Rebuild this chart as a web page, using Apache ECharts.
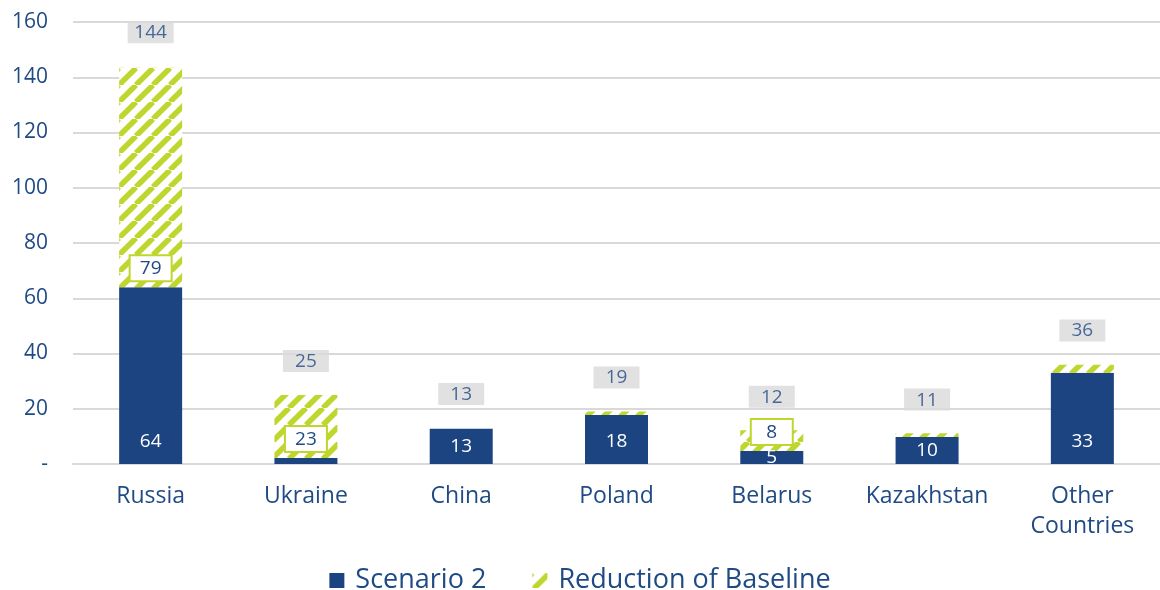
<!DOCTYPE html>
<html>
<head>
<meta charset="utf-8">
<script src="https://cdn.jsdelivr.net/npm/echarts@6/dist/echarts.min.js"></script>
<style>
html,body{margin:0;padding:0;background:#fff;}
#chart{width:1160px;height:590px;}
</style>
</head>
<body>
<div id="chart"></div>
<script>
const categories = ['Russia', 'Ukraine', 'China', 'Poland', 'Belarus', 'Kazakhstan', 'Other\nCountries'];
const scenario2 = [64, 2.2, 12.8, 17.7, 4.7, 9.8, 33];
const reduction = [79.4, 22.8, 0, 1.3, 7.5, 1.3, 2.9];
const totals = [144, 25, 13, 19, 12, 11, 36];
const yTickLabels = ['-', '20', '40', '60', '80', '100', '120', '140', '160'];

const NAVY = '#1c4480';
const TEXT = '#1f4a84';
const GREEN = '#bfd62f';
const FONT = 'Open Sans';

function makeHatch() {
  const s = 17;
  const c = document.createElement('canvas');
  c.width = s; c.height = s;
  const ctx = c.getContext('2d');
  ctx.fillStyle = '#ffffff';
  ctx.fillRect(0, 0, s, s);
  ctx.strokeStyle = GREEN;
  ctx.lineWidth = 5.5;
  for (let k = -1; k <= 1; k++) {
    ctx.beginPath();
    ctx.moveTo(k * s, s);
    ctx.lineTo(k * s + s, 0);
    ctx.stroke();
  }
  return c;
}
const hatch = { image: makeHatch(), repeat: 'repeat' };

const chart = echarts.init(document.getElementById('chart'));

const scenarioData = scenario2.map(v => ({
  value: v,
  label: {
    show: v >= 3,
    position: v < 17 ? 'inside' : 'insideBottom',
    distance: 13
  }
}));
const reductionData = reduction.map(v => ({
  value: v,
  label: { show: v >= 5 }
}));

chart.setOption({
  animation: false,
  textStyle: { fontFamily: FONT },
  grid: { left: 73, right: 0, top: 22, bottom: 126 },
  legend: {
    top: 562,
    left: 'center',
    icon: 'rect',
    itemWidth: 15,
    itemHeight: 15,
    itemGap: 46,
    textStyle: { fontFamily: FONT, fontSize: 27, color: TEXT, padding: [0, 0, 0, 6] },
    data: ['Scenario 2', 'Reduction of Baseline']
  },
  xAxis: {
    type: 'category',
    data: categories,
    axisLine: { show: true, lineStyle: { color: '#d9d9d9', width: 2 } },
    axisTick: { show: false },
    axisLabel: { interval: 0, fontFamily: FONT, fontSize: 23, color: TEXT, margin: 17, lineHeight: 30 }
  },
  yAxis: {
    type: 'value',
    min: 0,
    max: 160,
    interval: 20,
    axisLine: { show: false },
    axisTick: { show: false },
    splitLine: { lineStyle: { color: '#d9d9d9', width: 2 } },
    axisLabel: {
      fontFamily: FONT, fontSize: 21, color: TEXT, margin: 25,
      formatter: (v) => yTickLabels[Math.round(v / 20)]
    }
  },
  series: [
    {
      name: 'Scenario 2',
      type: 'bar',
      stack: 'a',
      barWidth: 63,
      itemStyle: { color: NAVY },
      label: {
        fontFamily: FONT, fontSize: 19, color: '#ffffff',
        formatter: (p) => Math.round(p.value)
      },
      data: scenarioData
    },
    {
      name: 'Reduction of Baseline',
      type: 'bar',
      stack: 'a',
      barWidth: 63,
      itemStyle: { color: hatch },
      label: {
        position: 'insideBottom',
        distance: 7,
        fontFamily: FONT, fontSize: 19, color: TEXT,
        backgroundColor: '#ffffff',
        borderColor: GREEN,
        borderWidth: 2,
        width: 22,
        align: 'center',
        padding: [3, 9, 2, 9],
        formatter: (p) => Math.round(p.value)
      },
      data: reductionData
    },
    {
      name: 'Total',
      type: 'scatter',
      symbolSize: 0,
      silent: true,
      label: {
        show: true,
        position: 'top',
        distance: 23,
        fontFamily: FONT, fontSize: 19, color: TEXT,
        backgroundColor: '#d9d9d9',
        width: 30,
        align: 'center',
        padding: [2, 8, 1, 8],
        formatter: (p) => p.value
      },
      data: totals
    }
  ]
});
</script>
</body>
</html>
